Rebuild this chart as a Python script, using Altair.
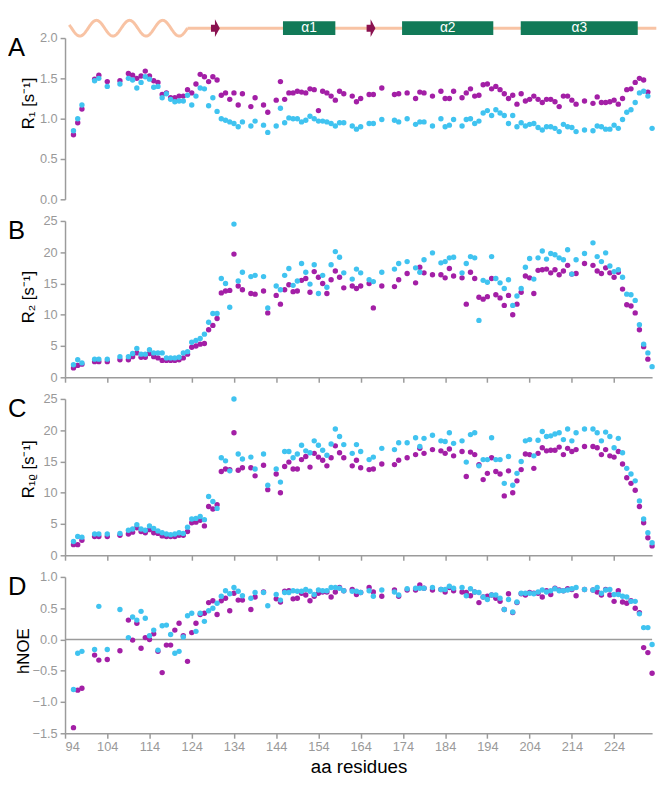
import altair as alt
import pandas as pd
import numpy as np

# ---------------- data ----------------
residues = ([96, 97, 98, 101, 102, 104, 107] + list(range(109, 137)) + [138, 139, 141, 142]
            + list(range(144, 161))
            + [162, 163, 164, 166, 167, 169, 172, 173, 175, 177, 178, 179, 181, 183, 184, 185, 186]
            + list(range(188, 216)) + [217] + list(range(219, 234)))

r1_cyan = [0.85, 1.00, 1.17, 1.47, 1.50, 1.40, 1.43,
           1.50, 1.48, 1.38, 1.45, 1.52, 1.49, 1.39, 1.40, 1.26, 1.31, 1.24, 1.21, 1.22, 1.22, 1.29, 1.17, 1.28, 1.38, 1.37, 1.16, 1.26, 1.09, 1.00, 0.98, 0.96, 0.94, 0.90, 0.96,
           0.91, 0.97, 0.92, 0.83,
           0.91, 1.13, 0.95, 1.01, 1.00, 1.00, 0.96, 0.98, 1.03, 1.00, 0.97, 0.97, 0.96, 0.94, 0.91, 0.95, 0.95,
           0.91, 0.87, 0.90, 0.94, 0.94, 0.99, 0.98, 0.96, 1.00, 0.93, 0.96, 0.96, 0.91, 1.00, 0.90, 0.92, 0.99,
           0.91, 0.99, 1.00, 0.94, 0.97, 1.07, 1.10, 1.04, 1.11, 1.07, 1.04, 0.94, 1.04, 0.90, 0.95, 0.91, 0.93, 0.94, 0.89, 0.86, 0.90, 0.90, 0.88, 0.84, 0.93, 0.90, 0.89, 0.84,
           0.86,
           0.85, 0.91, 0.90, 0.87, 0.87, 0.92, 0.88, 0.99, 1.08, 1.11, 1.20, 1.32, 1.34, 1.28, 0.88]
r1_mag = [0.80, 0.95, 1.12, 1.49, 1.54, 1.46, 1.47,
          1.56, 1.54, 1.50, 1.53, 1.59, 1.53, 1.47, 1.45, 1.30, 1.32, 1.26, 1.26, 1.28, 1.28, 1.36, 1.32, 1.43, 1.55, 1.52, 1.46, 1.52, 1.48, 1.29, 1.32, 1.24, 1.32, 1.17, 1.31,
          1.15, 1.26, 1.17, 1.08,
          1.23, 1.46, 1.24, 1.32, 1.32, 1.34, 1.33, 1.32, 1.37, 1.36, 1.10, 1.34, 1.32, 1.28, 1.23, 1.34, 1.31,
          1.28, 1.21, 1.25, 1.30, 1.30, 1.38, 1.30, 1.31, 1.32, 1.25, 1.33, 1.32, 1.28, 1.34, 1.25, 1.25, 1.34,
          1.26, 1.32, 1.37, 1.28, 1.29, 1.42, 1.43, 1.37, 1.40, 1.36, 1.31, 1.25, 1.29, 1.18, 1.31, 1.22, 1.24, 1.28, 1.24, 1.20, 1.24, 1.24, 1.21, 1.15, 1.28, 1.28, 1.23, 1.18,
          1.22,
          1.19, 1.27, 1.20, 1.20, 1.21, 1.23, 1.18, 1.25, 1.36, 1.37, 1.45, 1.50, 1.48, 1.33, None]

r2_cyan = [2.0, 2.8, 2.3, 2.9, 2.9, 2.9, 3.3,
           3.3, 3.8, 4.6, 3.7, 3.7, 4.4, 3.9, 3.9, 3.9, 3.1, 3.1, 3.1, 3.2, 3.9, 4.1, 5.6, 5.9, 6.2, 6.9, 8.8, 10.2, 10.2, 15.8, 15.0, 11.2, 24.5, 15.4, 16.8,
           16.1, 16.3, 16.1, 11.1,
           14.6, 14.0, 16.3, 17.4, 14.7, 15.4, 18.2, 16.8, 14.9, 18.0, 13.4, 16.3, 14.4, 18.0, 20.1, 19.2, 16.7,
           15.7, 17.3, 16.7, 15.6, 15.3, 16.8, 17.3, 18.2, 18.5, 17.5, 16.8, 18.8, 19.9, 18.3, 18.5, 19.1, 19.2,
           16.7, 18.2, 19.3, 19.1, 9.1, 15.5, 15.2, 19.3, 15.8, 15.1, 14.2, 15.6, 11.5, 13.0, 14.2, 17.6, 19.0, 15.7, 19.1, 20.2, 18.9, 19.8, 19.6, 19.1, 18.8, 20.4, 16.5, 18.8,
           19.8,
           21.5, 19.3, 18.5, 19.9, 17.8, 16.9, 17.2, 16.0, 13.3, 13.2, 12.3, 8.4, 5.3, 3.9, 1.7]
r2_mag = [1.5, 1.9, 2.1, 2.5, 2.5, 2.5, 2.8,
          2.8, 3.3, 3.9, 3.2, 3.2, 3.8, 3.3, 3.1, 2.7, 2.7, 2.7, 2.7, 2.8, 3.1, 3.7, 4.8, 5.0, 5.3, 5.4, 7.6, 8.3, 9.4, 13.5, 13.8, 13.9, 19.7, 14.6, 14.0,
          13.4, 13.3, 13.8, 10.3,
          13.1, 11.7, 14.0, 14.8, 13.7, 13.8, 15.5, 15.8, 13.6, 16.9, 16.0, 15.0, 13.4, 15.6, 17.0, 16.0, 14.3,
          14.6, 14.2, 14.6, 15.0, 11.1, 14.6, 14.5, 15.6, 16.6, 15.1, 17.6, 16.7, 16.4, 16.4, 15.9, 17.4, 16.2,
          15.9, 11.7, 16.8, 15.8, 12.8, 12.5, 12.9, 15.8, 13.2, 12.7, 11.5, 13.1, 10.0, 11.7, 13.6, 16.2, 15.9, 13.4, 17.1, 17.2, 17.3, 16.7, 17.2, 16.4, 17.0, 17.9, 16.5, 16.6,
          18.2,
          17.9, 17.0, 16.6, 17.5, 16.7, 16.0, 16.8, 14.1, 11.6, 11.4, 10.3, 7.6, 4.9, 2.9, None]

r1rho_cyan = [2.2, 3.0, 2.9, 3.4, 3.4, 3.4, 3.5,
              4.0, 4.2, 4.9, 4.2, 4.0, 4.7, 4.3, 3.9, 3.6, 3.4, 3.3, 3.4, 3.6, 3.5, 4.5, 5.8, 5.9, 6.2, 5.7, 9.4, 8.6, 7.5, 15.6, 15.1, 13.5, 25.0, 16.2, 15.4,
              15.7, 13.8, 16.2, 11.2,
              13.8, 11.7, 16.6, 16.6, 15.6, 16.2, 17.6, 16.7, 16.4, 18.3, 17.6, 16.8, 16.0, 17.8, 20.2, 19.0, 17.7,
              16.3, 17.7, 16.6, 15.3, 15.7, 17.1, 16.9, 18.0, 18.0, 18.8, 17.4, 18.7, 19.2, 18.3, 18.2, 19.6, 17.9,
              18.3, 14.9, 19.3, 19.6, 14.3, 15.3, 15.3, 18.8, 15.3, 15.3, 11.5, 15.8, 11.2, 13.1, 15.0, 18.3, 18.5, 15.9, 18.4, 19.8, 19.0, 19.1, 19.4, 19.6, 18.5, 20.2, 18.3, 19.6,
              20.2,
              20.2, 19.6, 18.3, 19.7, 19.0, 17.2, 18.7, 16.4, 13.9, 13.0, 11.9, 8.7, 5.8, 3.6, 2.0]
r1rho_mag = [1.7, 1.7, 2.4, 3.0, 3.0, 3.0, 3.2,
             3.4, 3.7, 4.4, 3.8, 3.6, 4.1, 3.6, 3.5, 3.1, 3.0, 3.0, 3.0, 3.2, 3.2, 3.8, 5.2, 5.3, 5.6, 4.7, 7.8, 7.4, 8.1, 13.4, 13.8, 13.7, 19.6, 13.6, 14.0,
             14.0, 12.7, 14.4, 10.5,
             13.0, 10.0, 14.2, 14.9, 13.8, 13.8, 15.3, 15.8, 14.1, 16.3, 15.7, 15.2, 14.3, 15.6, 17.5, 16.4, 15.6,
             14.3, 15.2, 14.0, 13.7, 13.8, 14.6, 14.5, 15.2, 15.6, 16.1, 17.1, 16.3, 16.9, 16.7, 16.3, 17.0, 15.9,
             16.6, 12.6, 16.5, 16.1, 14.5, 12.1, 13.1, 15.6, 13.4, 13.0, 9.5, 13.5, 10.0, 11.9, 13.7, 16.2, 16.1, 13.9, 16.3, 17.2, 16.7, 16.8, 16.8, 17.3, 16.1, 17.1, 16.6, 16.9,
             17.4,
             17.4, 17.2, 16.1, 16.9, 15.9, 15.7, 16.6, 14.6, 12.4, 11.5, 10.4, 7.8, 5.2, 2.8, 1.5]

hnoe_cyan = [-0.80, -0.22, -0.19, -0.16, 0.53, -0.16, 0.48,
             0.03, 0.36, 0.31, 0.45, 0.34, 0.06, 0.15, -0.17, 0.22, 0.23, 0.08, -0.22, -0.19, 0.04, 0.38, 0.42, 0.13, 0.42, 0.29, 0.46, 0.50, 0.58, 0.69, 0.78, 0.73, 0.83, 0.77, 0.70,
             0.66, 0.75, 0.75, 0.54,
             0.72, 0.63, 0.75, 0.75, 0.78, 0.77, 0.77, 0.80, 0.77, 0.72, 0.79, 0.78, 0.78, 0.83, 0.83, 0.82, 0.78,
             0.77, 0.77, 0.75, 0.78, 0.69, 0.79, 0.76, 0.71, 0.81, 0.82, 0.82, 0.82, 0.83, 0.80, 0.80, 0.85, 0.82,
             0.83, 0.70, 0.81, 0.76, 0.75, 0.68, 0.64, 0.71, 0.71, 0.66, 0.48, 0.64, 0.44, 0.60, 0.74, 0.74, 0.74, 0.73, 0.76, 0.79, 0.76, 0.78, 0.81, 0.78, 0.78, 0.79, 0.81, 0.83,
             0.80,
             0.79, 0.83, 0.74, 0.79, 0.80, 0.72, 0.72, 0.69, 0.68, 0.61, 0.61, 0.41, 0.19, 0.19, -0.08]
hnoe_mag = [-1.41, -0.81, -0.78, -0.25, -0.33, -0.32, -0.18,
            0.31, -0.01, 0.26, -0.14, 0.03, 0.00, 0.09, -0.19, -0.53, -0.09, -0.09, 0.15, 0.26, 0.06, -0.35, 0.11, 0.26, 0.40, 0.42, 0.59, 0.62, 0.40, 0.62, 0.66, 0.46, 0.74, 0.63, 0.63,
            0.48, 0.68, 0.76, None,
            0.65, 0.60, 0.77, 0.78, 0.65, 0.66, 0.74, 0.71, 0.62, 0.69, 0.74, 0.76, 0.76, 0.68, 0.76, 0.83, 0.78,
            0.80, 0.72, 0.75, 0.83, 0.76, 0.69, 0.79, 0.69, 0.79, 0.79, 0.87, 0.82, 0.79, 0.80, 0.76, 0.83, 0.78,
            0.76, 0.75, 0.70, 0.76, 0.59, 0.68, 0.69, 0.71, 0.66, 0.61, 0.48, 0.73, 0.43, 0.59, 0.73, 0.71, 0.75, 0.74, 0.74, 0.68, 0.78, 0.72, 0.82, 0.79, 0.78, 0.81, 0.80, 0.70,
            0.80,
            0.79, 0.76, 0.71, 0.80, 0.71, 0.61, 0.78, 0.60, 0.58, 0.62, 0.50, 0.43, -0.13, -0.21, -0.54]

# secondary structure (residue ranges)
helix_start = [145.6, 173.8, 201.9]
helix_end = [158.0, 195.4, 229.6]
helix_label = ["α1", "α2", "α3"]
strand_start = [127.5, 164.5]
strand_end = [131.7, 168.4]
coil_start = [123.0]
coil_end = [234.0]
disorder_start, disorder_end = 95.0, 123.0

x_ticks = [94, 104, 114, 124, 134, 144, 154, 164, 174, 184, 194, 204, 214, 224]
zero_line = [0.0]

CYAN = "#40C3F0"
MAG = "#A31FA6"
GRAY = "#9b9b9b"
FONT = "Liberation Sans"

XDOM = [94, 233]
W = 597


def long_df(cy, mg):
    n = len(residues)
    d = pd.DataFrame({
        "res": residues + residues,
        "s": ["m"] * n + ["c"] * n,
        "v": list(mg) + list(cy),
    })
    return d.dropna()


def xenc(field, show_labels=False, title=None):
    ax = alt.Axis(values=x_ticks, labels=show_labels, title=title, grid=False,
                  labelFontSize=13, labelColor="#999999", labelPadding=3, labelOverlap=False,
                  titleFontSize=19, titleColor="black", titlePadding=4,
                  titleFontWeight="normal", titleFont=FONT)
    return alt.X(field, type="quantitative",
                 scale=alt.Scale(domain=XDOM, nice=False, zero=False), axis=ax)


def xplain(field):
    return alt.X(field, type="quantitative",
                 scale=alt.Scale(domain=XDOM, nice=False, zero=False), axis=None)


def yaxis(yvals, fmt, ytitle, title_x, title_y):
    return alt.Axis(values=yvals, format=fmt, title=ytitle, grid=False,
                    titleX=title_x, titleY=title_y, titleAngle=-90, titleAlign="center",
                    titleBaseline="bottom", titleFontSize=17, titleColor="black",
                    titleFontWeight="normal", titleFont=FONT, labelOverlap=False,
                    labelFontSize=13, labelColor="#999999", labelPadding=3)


def points_layer(cy, mg, ydom, yax, last=False):
    d = long_df(cy, mg)
    return alt.Chart(d).mark_circle(size=30, opacity=1).encode(
        x=xenc("res", show_labels=last, title="aa residues" if last else None),
        y=alt.Y("v:Q", scale=alt.Scale(domain=ydom, nice=False, zero=False), axis=yax),
        color=alt.Color("s:N", scale=alt.Scale(domain=["c", "m"], range=[CYAN, MAG]), legend=None),
    )


def letter_layer(letter):
    return alt.Chart(pd.DataFrame({"t": [letter]})).mark_text(
        align="left", baseline="top", fontSize=26, font=FONT, color="black"
    ).encode(text="t:N", x=alt.value(-58), y=alt.value(-3))


# ---- secondary-structure cartoon (drawn above panel A) ----
SY = -10
wave_x = np.linspace(disorder_start, disorder_end, 240)
period = 7.84
wave_y = np.sin(2 * np.pi * (wave_x - disorder_start) / period + 2.7)
wave_df = pd.DataFrame({"wx": wave_x, "wy": wave_y})

coil = alt.Chart(pd.DataFrame({"cs": coil_start, "ce": coil_end})).mark_rule(
    color="#F8C3A4", strokeWidth=3).encode(
    x=xplain("cs"), x2="ce", y=alt.value(SY))

wave = alt.Chart(wave_df).mark_line(color="#F8C3A4", strokeWidth=3).encode(
    x=xplain("wx"),
    y=alt.Y("wy:Q", scale=alt.Scale(domain=[-1, 1], range=[SY + 8, SY - 8]), axis=None),
    order="wx:Q")

helix_df = pd.DataFrame({"hs": helix_start, "he": helix_end, "hl": helix_label})
helices = alt.Chart(helix_df).mark_rect(color="#127A58").encode(
    x=xplain("hs"), x2="he", y=alt.value(SY - 7), y2=alt.value(SY + 7))
helix_txt = alt.Chart(helix_df).transform_calculate(hm="(datum.hs + datum.he) / 2").mark_text(
    color="white", fontSize=14, font=FONT, baseline="middle").encode(
    x=xplain("hm:Q"), y=alt.value(SY), text="hl:N")

arrow_path = "M-0.5,-0.4L-0.05,-0.4L-0.05,-1L0.5,0L-0.05,1L-0.05,0.4L-0.5,0.4Z"
strands = alt.Chart(pd.DataFrame({"ss": strand_start, "se": strand_end})).transform_calculate(
    sm="(datum.ss + datum.se) / 2").mark_point(
    shape=arrow_path, filled=True, size=324, color="#8A1150", opacity=1, strokeWidth=0).encode(
    x=xplain("sm:Q"), y=alt.value(SY))

# ---- panels ----
pA = alt.layer(
    coil, wave, helices, helix_txt, strands,
    points_layer(r1_cyan, r1_mag, [0, 2],
                 yaxis([0, 0.5, 1.0, 1.5, 2.0], ".1f", "R₁ [s⁻¹]", -28, 66)),
    letter_layer("A"),
).resolve_scale(y="independent").properties(width=W, height=164)

pB = alt.layer(
    points_layer(r2_cyan, r2_mag, [0, 25],
                 yaxis([0, 5, 10, 15, 20, 25], "d", "R₂ [s⁻¹]", -28, 77)),
    letter_layer("B"),
).properties(width=W, height=159)

pC = alt.layer(
    points_layer(r1rho_cyan, r1rho_mag, [0, 25],
                 yaxis([0, 5, 10, 15, 20, 25], "d", "R₁ᵨ [s⁻¹]", -28, 71)),
    letter_layer("C"),
).properties(width=W, height=159)

D_DOM = [-1.5, 1]
d_axis = yaxis([-1.5, -1.0, -0.5, 0.0, 0.5, 1.0], ".1f", "hNOE", -33, 75)
zero = alt.Chart(pd.DataFrame({"v": zero_line})).mark_rule(color=GRAY, strokeWidth=1.5).encode(
    y=alt.Y("v:Q", scale=alt.Scale(domain=D_DOM, nice=False, zero=False), axis=d_axis))

pD = alt.layer(
    zero,
    points_layer(hnoe_cyan, hnoe_mag, D_DOM, d_axis, last=True),
    letter_layer("D"),
).properties(width=W, height=159)

chart = alt.vconcat(pA, pB, pC, pD, spacing=22, bounds="flush").properties(
    padding=0
).configure_view(stroke=None).configure_axis(
    domainColor=GRAY, domainWidth=1.5, tickColor=GRAY, tickWidth=1.5, tickSize=5,
    labelFont=FONT, titleFont=FONT, grid=False,
)

chart.save("out.html", embed_options={"renderer": "svg", "actions": False})
